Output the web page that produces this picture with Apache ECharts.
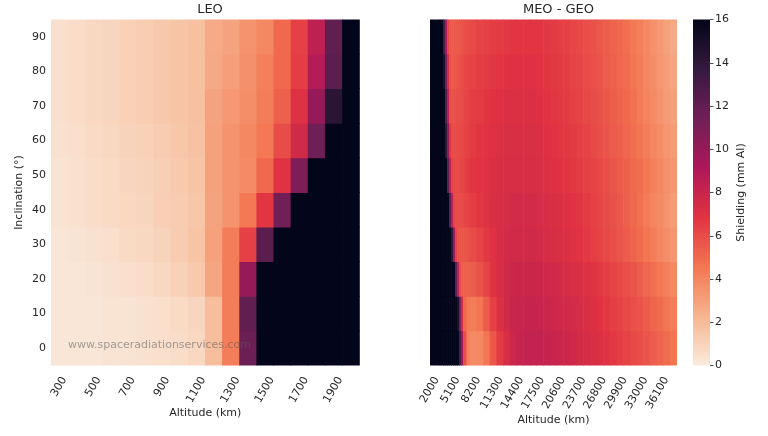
<!DOCTYPE html>
<html>
<head>
<meta charset="utf-8">
<script src="https://cdn.jsdelivr.net/npm/echarts@6/dist/echarts.min.js"></script>
<style>
  html, body { margin: 0; padding: 0; background: #fff; }
  #chart { width: 768px; height: 436px; }
</style>
</head>
<body>
<div id="chart"></div>
<script>
// inclination rows (bottom -> top)
var INCL = [0, 10, 20, 30, 40, 50, 60, 70, 80, 90];

// LEO altitudes (km) and the ones that get a tick label
var LEO_ALT = [300, 400, 500, 600, 700, 800, 900, 1000, 1100, 1200, 1300, 1400, 1500, 1600, 1700, 1800, 1900, 2000];
var LEO_TICKS = ['300', '500', '700', '900', '1100', '1300', '1500', '1700', '1900'];

// LEO shielding (mm Al), one row per inclination, >=16 shows as black
var LEO_SHIELD = [
  [0.2, 0.2, 0.2, 0.3, 0.3, 0.4, 0.5, 0.6, 0.8, 1.9, 4.3, 11.6, 18, 18, 18, 18, 18, 18],
  [0.2, 0.2, 0.2, 0.3, 0.3, 0.4, 0.5, 0.7, 0.9, 1.9, 4.3, 12.0, 18, 18, 18, 18, 18, 18],
  [0.2, 0.2, 0.3, 0.4, 0.5, 0.6, 0.8, 1.1, 1.4, 2.8, 4.3, 10.0, 18, 18, 18, 18, 18, 18],
  [0.2, 0.3, 0.4, 0.5, 0.7, 0.8, 1.0, 1.3, 1.6, 3.0, 4.3, 6.4, 12.3, 18, 18, 18, 18, 18],
  [0.3, 0.4, 0.6, 0.7, 0.85, 0.9, 1.2, 1.3, 1.5, 2.9, 3.5, 4.5, 6.8, 11.3, 18, 18, 18, 18],
  [0.3, 0.4, 0.6, 0.7, 0.9, 1.0, 1.2, 1.4, 1.6, 3.0, 3.5, 3.8, 5.0, 6.9, 10.9, 18, 18, 18],
  [0.4, 0.5, 0.7, 0.8, 1.0, 1.1, 1.3, 1.5, 1.7, 3.0, 3.5, 3.9, 4.5, 6.0, 7.6, 11.5, 18, 18],
  [0.45, 0.6, 0.8, 0.9, 1.1, 1.25, 1.45, 1.6, 1.8, 2.9, 3.3, 3.7, 4.3, 5.3, 7.0, 10.0, 14.2, 18],
  [0.45, 0.6, 0.8, 0.9, 1.1, 1.25, 1.45, 1.6, 1.8, 2.7, 3.1, 3.6, 4.2, 5.0, 6.5, 8.8, 12.2, 18],
  [0.45, 0.6, 0.8, 0.9, 1.1, 1.25, 1.45, 1.6, 1.8, 2.6, 2.9, 3.5, 3.9, 5.0, 6.4, 8.4, 12.0, 18]
];

// MEO-GEO: altitude bands (km) the values below were read for
var MEO_EDGES = [2000, 3500, 4000, 4300, 4600, 4900, 5200, 5500, 5800, 6100, 6400, 6700, 7000, 7500, 8000,
  9000, 10000, 11000, 12000, 13000, 14000, 15000, 16000, 17000, 18000, 19000, 20000, 21000, 22000, 23000,
  24000, 25000, 26000, 27000, 28000, 29000, 30000, 31000, 32000, 33000, 34000, 35000, 36000, 37000, 38000, 39000];
var MEO_TICKS = ['2000', '5100', '8200', '11300', '14400', '17500', '20600', '23700', '26800', '29900', '33000', '36100'];

var MEO_SHIELD = [
  [18, 18, 18, 18, 18, 18, 18, 18, 18, 17, 13, 9.5, 6.0, 4.2, 3.8, 3.9, 4.6, 5.6, 6.6, 7.3, 7.8, 8.1, 8.2, 8.2, 8.2, 8.1, 8.0, 7.9, 7.8, 7.7, 7.5, 7.4, 7.2, 7.1, 6.9, 6.7, 6.5, 6.3, 6.1, 5.9, 5.7, 5.5, 5.2, 4.9, 4.6],
  [18, 18, 18, 18, 18, 18, 18, 18, 18, 15, 11, 7.5, 5.0, 4.5, 4.3, 4.6, 5.5, 6.4, 7.1, 7.6, 7.9, 8.0, 8.1, 8.1, 8.0, 7.9, 7.8, 7.7, 7.6, 7.5, 7.4, 7.2, 7.1, 6.9, 6.7, 6.5, 6.3, 6.1, 5.9, 5.7, 5.5, 5.2, 4.9, 4.6, 4.3],
  [18, 18, 18, 18, 18, 18, 18, 16, 12, 8.5, 6.0, 5.4, 5.3, 5.3, 5.4, 5.8, 6.3, 6.9, 7.3, 7.6, 7.8, 7.9, 7.9, 7.9, 7.8, 7.7, 7.6, 7.5, 7.4, 7.3, 7.2, 7.0, 6.9, 6.7, 6.5, 6.3, 6.1, 5.9, 5.7, 5.4, 5.1, 4.8, 4.5, 4.2, 3.9],
  [18, 18, 18, 18, 18, 18, 14, 9.5, 6.3, 5.8, 5.7, 5.7, 5.7, 5.8, 6.0, 6.3, 6.7, 7.0, 7.3, 7.5, 7.6, 7.6, 7.6, 7.6, 7.5, 7.4, 7.3, 7.2, 7.1, 7.0, 6.9, 6.7, 6.5, 6.3, 6.1, 5.9, 5.7, 5.5, 5.2, 4.9, 4.6, 4.3, 4.0, 3.7, 3.4],
  [18, 18, 18, 18, 16, 12, 8.5, 6.3, 6.0, 6.0, 6.0, 6.1, 6.2, 6.3, 6.5, 6.8, 7.0, 7.2, 7.3, 7.4, 7.5, 7.5, 7.5, 7.5, 7.4, 7.3, 7.2, 7.1, 7.0, 6.9, 6.8, 6.6, 6.4, 6.2, 6.0, 5.8, 5.6, 5.3, 5.0, 4.7, 4.4, 4.1, 3.8, 3.5, 3.2],
  [18, 18, 18, 16, 12, 8.5, 6.3, 6.1, 6.1, 6.1, 6.2, 6.3, 6.4, 6.6, 6.8, 6.9, 7.0, 7.1, 7.2, 7.3, 7.3, 7.3, 7.3, 7.3, 7.2, 7.1, 7.0, 6.9, 6.8, 6.7, 6.6, 6.4, 6.3, 6.1, 5.9, 5.7, 5.5, 5.3, 5.0, 4.8, 4.5, 4.2, 3.9, 3.6, 3.4],
  [18, 18, 18, 14, 10, 6.8, 6.0, 6.0, 6.0, 6.1, 6.1, 6.2, 6.3, 6.4, 6.6, 6.8, 6.9, 7.0, 7.1, 7.2, 7.2, 7.2, 7.2, 7.2, 7.1, 7.0, 6.9, 6.8, 6.7, 6.6, 6.4, 6.3, 6.1, 5.9, 5.7, 5.5, 5.3, 5.1, 4.8, 4.6, 4.3, 4.0, 3.7, 3.4, 3.2],
  [18, 18, 16, 12.5, 8.5, 6.0, 5.8, 5.8, 5.9, 6.0, 6.0, 6.1, 6.2, 6.3, 6.5, 6.6, 6.8, 6.9, 7.0, 7.1, 7.1, 7.1, 7.1, 7.1, 7.0, 6.9, 6.8, 6.7, 6.6, 6.4, 6.3, 6.1, 6.0, 5.8, 5.6, 5.4, 5.2, 5.0, 4.7, 4.4, 4.1, 3.8, 3.5, 3.2, 3.0],
  [18, 18, 15, 11, 7.5, 5.8, 5.6, 5.6, 5.7, 5.8, 5.9, 6.0, 6.1, 6.2, 6.3, 6.5, 6.6, 6.7, 6.8, 6.9, 7.0, 7.0, 7.0, 7.0, 6.9, 6.8, 6.7, 6.6, 6.5, 6.3, 6.2, 6.0, 5.9, 5.7, 5.5, 5.3, 5.1, 4.9, 4.6, 4.3, 4.0, 3.7, 3.4, 3.1, 2.8],
  [18, 18, 13, 9, 6.2, 5.6, 5.5, 5.5, 5.6, 5.6, 5.7, 5.8, 5.9, 6.0, 6.1, 6.3, 6.4, 6.5, 6.6, 6.7, 6.8, 6.8, 6.8, 6.8, 6.8, 6.7, 6.6, 6.5, 6.4, 6.2, 6.1, 5.9, 5.8, 5.6, 5.4, 5.2, 5.0, 4.8, 4.5, 4.2, 3.9, 3.6, 3.3, 3.0, 2.7]
];

// rocket_r colour stops, 0 -> 16 mm Al
var ROCKET_R = ['#faebdd', '#f6b48f', '#f37651', '#e13342', '#ad1759', '#701f57', '#35193e', '#03051a'];

var FONT = 'DejaVu Sans';
var TXT = '#262626';

// MEO-GEO x categories, 100 km cells (ticks every 3100 km)
var MEO_STEP = 100;
var MEO_ALT = [];
for (var a = 2000; a < 39000; a += MEO_STEP) MEO_ALT.push(a);

// cells: [first column, column after last, row, value]
var leoData = [];
INCL.forEach(function (inc, yi) {
  LEO_ALT.forEach(function (alt, xi) {
    leoData.push([xi, xi + 1, yi, LEO_SHIELD[yi][xi]]);
  });
});

var meoData = [];
INCL.forEach(function (inc, yi) {
  MEO_SHIELD[yi].forEach(function (v, s) {
    meoData.push([
      (MEO_EDGES[s] - MEO_EDGES[0]) / MEO_STEP,
      (MEO_EDGES[s + 1] - MEO_EDGES[0]) / MEO_STEP,
      yi, v
    ]);
  });
});

// heatmap band drawn slightly oversized so neighbours leave no seams
function renderCells(params, api) {
  var yi = api.value(2);
  var p0 = api.coord([api.value(0), yi]);
  var p1 = api.coord([api.value(1) - 1, yi]);
  var sz = api.size([1, 1]);
  var x0 = p0[0] - sz[0] / 2;
  var x1 = p1[0] + sz[0] / 2;
  return {
    type: 'rect',
    shape: { x: x0 - 0.3, y: p0[1] - sz[1] / 2 - 0.4, width: x1 - x0 + 0.6, height: sz[1] + 0.8 },
    style: { fill: api.visual('color') }
  };
}

var labelStyle = { fontFamily: FONT, fontSize: 11, color: TXT };
var tickStyle = { color: TXT, width: 0.8 };

var myChart = echarts.init(document.getElementById('chart'));
var option = {
  animation: false,
  backgroundColor: '#fff',
  title: [
    { text: 'LEO', left: 205, top: -2, textAlign: 'center', textStyle: { fontFamily: FONT, fontSize: 13, fontWeight: 'normal', color: TXT } },
    { text: 'MEO - GEO', left: 553.5, top: -2, textAlign: 'center', textStyle: { fontFamily: FONT, fontSize: 13, fontWeight: 'normal', color: TXT } }
  ],
  grid: [
    { left: 51, top: 19.5, width: 308.5, height: 346 },
    { left: 430, top: 19.5, width: 247, height: 346 },
    { left: 693, top: 19.5, width: 17, height: 346 }
  ],
  xAxis: [
    {
      type: 'category', gridIndex: 0, data: LEO_ALT,
      axisLine: { show: false },
      axisTick: { interval: 1, alignWithLabel: true, length: 3.5, lineStyle: tickStyle },
      axisLabel: { show: false, interval: 1 },
      splitLine: { show: false },
      name: 'Altitude (km)', nameLocation: 'middle', nameGap: 42, nameTextStyle: labelStyle
    },
    {
      type: 'category', gridIndex: 1, data: MEO_ALT,
      axisLine: { show: false },
      axisTick: { interval: 30, alignWithLabel: true, length: 3.5, lineStyle: tickStyle },
      axisLabel: { show: false, interval: 30 },
      splitLine: { show: false },
      name: 'Altitude (km)', nameLocation: 'middle', nameGap: 49, nameTextStyle: labelStyle
    },
    { type: 'category', gridIndex: 2, data: [''], show: false }
  ],
  yAxis: [
    {
      type: 'category', gridIndex: 0, data: INCL,
      axisLine: { show: false },
      axisTick: { alignWithLabel: true, length: 3.5, lineStyle: tickStyle },
      axisLabel: Object.assign({ margin: 5 }, labelStyle),
      splitLine: { show: false },
      name: 'Inclination (°)', nameLocation: 'middle', nameGap: 26, nameRotate: 90, nameTextStyle: labelStyle
    },
    { type: 'category', gridIndex: 1, data: INCL, show: false },
    {
      type: 'value', gridIndex: 2, min: 0, max: 16, interval: 2, position: 'right',
      axisLine: { show: false },
      axisTick: { show: true, length: 3.5, lineStyle: tickStyle },
      axisLabel: Object.assign({ margin: 5 }, labelStyle),
      splitLine: { show: false },
      name: 'Shielding (mm Al)', nameLocation: 'middle', nameGap: 26, nameRotate: 90, nameTextStyle: labelStyle
    }
  ],
  visualMap: {
    type: 'continuous', show: false, min: 0, max: 16, dimension: 3, seriesIndex: [0, 1],
    inRange: { color: ROCKET_R }
  },
  series: [
    {
      type: 'custom', xAxisIndex: 0, yAxisIndex: 0, data: leoData, clip: true, silent: true,
      encode: { x: 0, y: 2 }, renderItem: renderCells
    },
    {
      type: 'custom', xAxisIndex: 1, yAxisIndex: 1, data: meoData, clip: true, silent: true,
      encode: { x: 0, y: 2 }, renderItem: renderCells
    },
    {
      type: 'bar', xAxisIndex: 2, yAxisIndex: 2, data: [16], barWidth: '100%', silent: true,
      itemStyle: {
        color: new echarts.graphic.LinearGradient(0, 1, 0, 0, ROCKET_R.map(function (c, i) {
          return { offset: i / (ROCKET_R.length - 1), color: c };
        }))
      }
    }
  ]
};
myChart.setOption(option);

// x tick labels rotated 60deg and centred under their tick, tops aligned (matplotlib style)
function buildGraphics() {
  var ctx = document.createElement('canvas').getContext('2d');
  ctx.font = '11px "DejaVu Sans"';
  var labelTop = 375;
  var els = [];
  function addLabels(axisIndex, cats, ticks) {
    ticks.forEach(function (t) {
      var cx = myChart.convertToPixel({ xAxisIndex: axisIndex }, cats.indexOf(+t));
      var w = ctx.measureText(t).width;
      var cy = labelTop + w * Math.sin(Math.PI / 3) / 2 + 11 * 0.5 / 2;
      els.push({
        type: 'text', x: cx - 0.5, y: cy, rotation: Math.PI / 3, silent: true, z: 100,
        style: {
          text: t, fill: TXT, font: '11px "DejaVu Sans"',
          align: 'center', verticalAlign: 'middle', textAlign: 'center', textVerticalAlign: 'middle'
        }
      });
    });
  }
  addLabels(0, LEO_ALT, LEO_TICKS);
  addLabels(1, MEO_ALT, MEO_TICKS);
  els.push({
    type: 'text', left: 68, top: 340, z: 100, silent: true,
    style: { text: 'www.spaceradiationservices.com', fill: 'rgba(90,90,90,0.55)', font: '11px "DejaVu Sans"' }
  });
  myChart.setOption({ graphic: { elements: els } });
}
buildGraphics();
window.addEventListener('resize', function () { myChart.resize(); buildGraphics(); });
</script>
</body>
</html>
